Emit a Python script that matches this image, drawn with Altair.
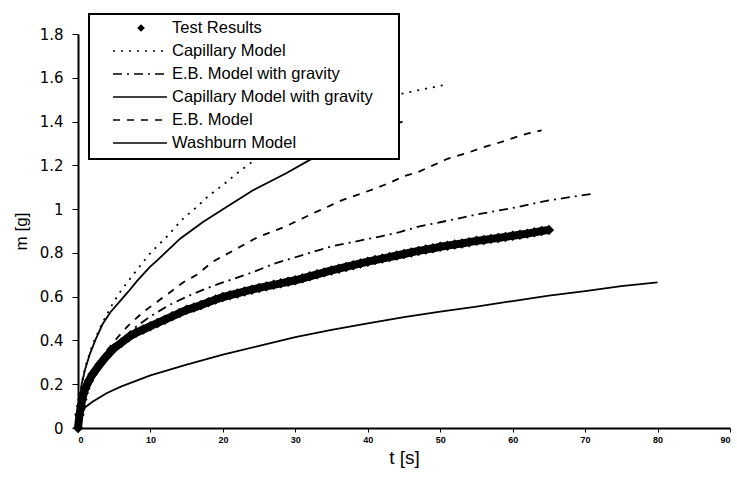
import altair as alt
import pandas as pd

# ---- measured uptake (test results) ----
test_t = [0, 0.2, 0.4, 0.6, 0.8, 1, 1.5, 2, 3, 4, 5, 6, 7, 8, 9, 10, 11, 12, 13, 14,
          15, 16, 17, 18, 19, 20, 21, 22, 23, 24, 25, 26, 27, 28, 29, 30, 31, 32, 33, 34,
          35, 36, 37, 38, 39, 40, 41, 42, 43, 44, 45, 46, 47, 48, 49, 50, 51, 52, 53, 54,
          55, 56, 57, 58, 59, 60, 61, 62, 63, 64, 65]
test_m = [0.0, 0.06, 0.10, 0.13, 0.16, 0.18, 0.215, 0.245, 0.29, 0.33, 0.365, 0.39, 0.415, 0.435, 0.45, 0.465, 0.48, 0.495, 0.51, 0.525,
          0.54, 0.55, 0.562, 0.575, 0.587, 0.598, 0.607, 0.615, 0.624, 0.632, 0.64, 0.647, 0.654, 0.661, 0.668, 0.675, 0.684, 0.693, 0.702, 0.711,
          0.72, 0.728, 0.736, 0.744, 0.752, 0.76, 0.767, 0.774, 0.781, 0.788, 0.795, 0.802, 0.809, 0.815, 0.821, 0.828, 0.833, 0.838, 0.843, 0.849,
          0.855, 0.859, 0.864, 0.868, 0.873, 0.878, 0.883, 0.888, 0.894, 0.9, 0.905]

# ---- model predictions ----
cap_t = [0, 0.25, 0.5, 1, 2, 3, 4, 5, 6, 7.6, 10, 12.3, 14.3, 16.4, 18, 20, 22, 24, 27, 30, 35, 40, 45, 51]
cap_m = [0, 0.14, 0.2, 0.28, 0.38, 0.455, 0.52, 0.58, 0.63, 0.70, 0.80, 0.875, 0.95, 1.01, 1.06, 1.11, 1.165, 1.215, 1.28, 1.34, 1.42, 1.48, 1.53, 1.57]

ebg_t = [0, 1, 2, 3, 5, 7.5, 10, 12.5, 15, 17.5, 20, 24, 27, 31, 35, 38, 42, 44.4, 47, 50, 55, 60, 65, 71]
ebg_m = [0, 0.16, 0.23, 0.28, 0.37, 0.45, 0.51, 0.56, 0.60, 0.635, 0.665, 0.71, 0.75, 0.79, 0.83, 0.85, 0.877, 0.895, 0.92, 0.94, 0.975, 1.005, 1.04, 1.07]

capg_t = [0, 0.5, 1, 1.66, 2.5, 3.4, 4.5, 5.8, 7, 8.1, 9.9, 10.9, 12.5, 14.1, 17.2, 20.5, 24.1, 28.8, 32, 36, 40, 44.8]
capg_m = [0, 0.2, 0.27, 0.34, 0.41, 0.475, 0.53, 0.58, 0.625, 0.67, 0.735, 0.765, 0.815, 0.865, 0.94, 1.01, 1.085, 1.165, 1.225, 1.285, 1.345, 1.40]

eb_t = [0, 1, 2, 3, 4, 5.5, 7, 9, 12.3, 14.5, 16.4, 18.6, 20.3, 24.7, 28.6, 32.4, 36.4, 40.7, 43, 45, 47, 49, 51, 53.6, 55.7, 57.8, 59.6, 62, 64]
eb_m = [0, 0.18, 0.25, 0.31, 0.355, 0.415, 0.47, 0.53, 0.61, 0.665, 0.70, 0.76, 0.79, 0.87, 0.92, 0.98, 1.04, 1.09, 1.12, 1.15, 1.17, 1.20, 1.23, 1.255, 1.28, 1.30, 1.32, 1.345, 1.36]

wash_t = [0, 0.5, 1, 2, 4, 6, 8, 10, 15, 20, 25, 30, 35, 40, 45, 50, 55, 60, 65, 70, 75, 80]
wash_m = [0, 0.06, 0.095, 0.12, 0.16, 0.19, 0.215, 0.24, 0.29, 0.335, 0.375, 0.415, 0.448, 0.478, 0.507, 0.532, 0.555, 0.58, 0.605, 0.625, 0.648, 0.665]

legend_labels = ["Test Results", "Capillary Model", "E.B. Model with gravity",
                 "Capillary Model with gravity", "E.B. Model", "Washburn Model"]

FONT = "Liberation Sans"
x_scale = alt.Scale(domain=[0, 90], nice=False, zero=True)
y_scale = alt.Scale(domain=[0, 1.8], nice=False, zero=True)

x_enc = alt.X("t:Q", scale=x_scale, title="t [s]",
              axis=alt.Axis(values=list(range(0, 91, 10)), grid=False, tickSize=4,
                            labelFontSize=9, labelFontWeight="bold", labelPadding=3,
                            titleFontSize=19, titleFontWeight="normal", titlePadding=4,
                            domainColor="black", tickColor="black", domainWidth=2,
                            labelFont=FONT, titleFont=FONT, labelColor="black",
                            titleColor="black"))
y_enc = alt.Y("m:Q", scale=y_scale, title="m [g]",
              axis=alt.Axis(values=[round(0.2 * i, 1) for i in range(10)], format="~g",
                            grid=False, tickSize=6, labelFontSize=15, labelPadding=9,
                            titleFontSize=17, titleFontWeight="normal", titlePadding=9,
                            domainColor="black", tickColor="black", domainWidth=2,
                            labelFont="DejaVu Sans", titleFont=FONT, labelColor="black",
                            titleColor="black"))


def series(ts, ms):
    return pd.DataFrame({"t": ts, "m": ms})


def model_line(ts, ms, dash):
    kw = {"strokeDash": dash} if dash else {}
    return alt.Chart(series(ts, ms)).mark_line(color="black", strokeWidth=1.8, **kw).encode(x=x_enc, y=y_enc)


test_df = series(test_t, test_m)
test_band = alt.Chart(test_df).mark_line(color="black", strokeWidth=8).encode(x=x_enc, y=y_enc)
test_pts = alt.Chart(test_df).mark_point(shape="diamond", filled=True, size=110,
                                         color="black", opacity=1).encode(x=x_enc, y=y_enc)

dotted = [2, 6]
dashdot = [9, 5, 2, 5]
dashed = [7, 7]

layers = [
    model_line(wash_t, wash_m, None),
    model_line(eb_t, eb_m, dashed),
    model_line(ebg_t, ebg_m, dashdot),
    model_line(capg_t, capg_m, None),
    model_line(cap_t, cap_m, dotted),
    test_band,
    test_pts,
]

# ---- legend box (drawn in pixel space over the plot) ----
anchor = pd.DataFrame({"k": [0]})
layers.append(alt.Chart(anchor).mark_rect(fill="white", fillOpacity=1, opacity=1,
                                          stroke="black", strokeWidth=2).encode(
    x=alt.value(11), x2=alt.value(321), y=alt.value(-20), y2=alt.value(125)))

row_y = [-6, 17, 40, 63, 86, 109]
dashes = [None, dotted, dashdot, None, dashed, None]
for i, label in enumerate(legend_labels):
    if i == 0:
        layers.append(alt.Chart(anchor).mark_point(shape="diamond", filled=True, size=60,
                                                   color="black", opacity=1).encode(
            x=alt.value(63), y=alt.value(row_y[i])))
    else:
        kw = {"strokeDash": dashes[i]} if dashes[i] else {}
        layers.append(alt.Chart(anchor).mark_rule(color="black", strokeWidth=1.6, **kw).encode(
            x=alt.value(35), x2=alt.value(89), y=alt.value(row_y[i])))
    layers.append(alt.Chart(pd.DataFrame({"label": [label]})).mark_text(
        align="left", baseline="middle", font=FONT, fontSize=16.5, color="black").encode(
        x=alt.value(94), y=alt.value(row_y[i]), text="label:N"))

chart = alt.layer(*layers).properties(
    width=652, height=394,
    autosize=alt.AutoSizeParams(type="none"),
    padding={"left": 78, "top": 34, "right": 7, "bottom": 49},
    background="white",
).configure_view(stroke=None)

chart.save("out.html", embed_options={"renderer": "svg", "actions": False})
